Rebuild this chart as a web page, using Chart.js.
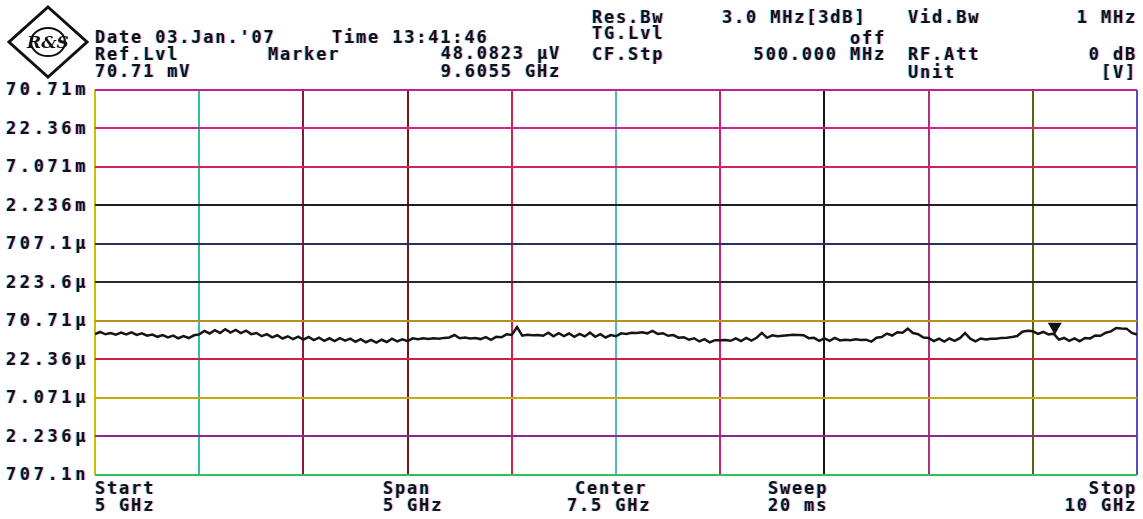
<!DOCTYPE html>
<html>
<head>
<meta charset="utf-8">
<script src="https://cdn.jsdelivr.net/npm/chart.js@4.4.1/dist/chart.umd.min.js"></script>
<style>
  body { margin: 0; background: #fff; }
  #wrap { position: relative; width: 1143px; height: 519px; overflow: hidden; }
  #plot { position: absolute; left: 0; top: 0; }
  .t {
    position: absolute; white-space: pre; color: #111;
    font: bold 17px "DejaVu Sans Mono", monospace; line-height: 18px;
    letter-spacing: 1.8px;
    text-shadow: -1px 0 rgba(0,190,230,0.45), 1px 0 rgba(230,0,160,0.4);
  }
  .r { text-align: right; }
</style>
</head>
<body>
<div id="wrap">
  <canvas id="plot" width="1143" height="519"></canvas>

  <svg style="position:absolute;left:6px;top:4px" width="84" height="76">
    <polygon points="42,3 81,38 42,73 3,38" fill="none" stroke="#111" stroke-width="3"/>
    <ellipse cx="42" cy="38" rx="17" ry="14" fill="none" stroke="#111" stroke-width="2"/>
    <text x="42" y="44" text-anchor="middle" font-family="DejaVu Serif" font-style="italic" font-weight="bold" font-size="17" fill="#111">R&amp;S</text>
  </svg>

  <div class="t" style="left:95px;top:28px">Date 03.Jan.'07</div>
  <div class="t" style="left:332px;top:28px">Time 13:41:46</div>
  <div class="t" style="left:95px;top:45px">Ref.Lvl</div>
  <div class="t" style="left:268px;top:45px">Marker</div>
  <div class="t r" style="right:582px;top:44px">48.0823 µV</div>
  <div class="t" style="left:95px;top:62px">70.71 mV</div>
  <div class="t r" style="right:582px;top:62px">9.6055 GHz</div>

  <div class="t" style="left:592px;top:8px">Res.Bw</div>
  <div class="t" style="left:722px;top:8px">3.0 MHz[3dB]</div>
  <div class="t" style="left:908px;top:8px">Vid.Bw</div>
  <div class="t r" style="right:6px;top:8px">1 MHz</div>
  <div class="t" style="left:592px;top:24px">TG.Lvl</div>
  <div class="t r" style="right:257px;top:29px">off</div>
  <div class="t" style="left:592px;top:45px">CF.Stp</div>
  <div class="t r" style="right:257px;top:45px">500.000 MHz</div>
  <div class="t" style="left:908px;top:45px">RF.Att</div>
  <div class="t r" style="right:6px;top:45px">0 dB</div>
  <div class="t" style="left:908px;top:63px">Unit</div>
  <div class="t r" style="right:6px;top:63px">[V]</div>

  <div class="t" style="left:95px;top:479px">Start</div>
  <div class="t" style="left:95px;top:496px">5 GHz</div>
  <div class="t" style="left:383px;top:479px">Span</div>
  <div class="t" style="left:383px;top:496px">5 GHz</div>
  <div class="t" style="left:575px;top:479px">Center</div>
  <div class="t" style="left:567px;top:496px">7.5 GHz</div>
  <div class="t" style="left:768px;top:479px">Sweep</div>
  <div class="t" style="left:768px;top:496px">20 ms</div>
  <div class="t r" style="right:6px;top:479px">Stop</div>
  <div class="t r" style="right:6px;top:496px">10 GHz</div>
</div>

<script>
// sweep 5 GHz .. 10 GHz, level in µV
const startGHz = 5;
const stopGHz = 10;
const stepGHz = 0.025;

const levels = [
  47.5, 50.6, 47.2, 49.1, 46.8, 49.6, 47.0, 49.9, 46.4, 48.5,
  45.2, 46.9, 43.8, 46.1, 42.9, 45.4, 41.9, 44.6, 42.2, 45.8,
  47.1, 52.3, 48.4, 53.5, 49.2, 54.8, 49.6, 53.7, 48.8, 52.6,
  47.4, 49.0, 44.6, 47.5, 43.1, 45.9, 41.6, 44.5, 40.9, 43.9,
  40.3, 43.5, 39.6, 42.7, 38.8, 41.9, 38.5, 42.0, 39.1, 41.5,
  37.8, 40.8, 37.2, 39.9, 36.8, 40.1, 37.5, 41.4, 38.1, 40.6,
  38.5, 41.8, 40.6, 42.0, 40.9, 41.9, 41.2, 42.4, 43.0, 46.2,
  41.9, 43.0, 41.7, 42.2, 40.9, 43.5, 40.1, 43.8, 43.2, 47.1,
  46.4, 58.6, 45.3, 46.6, 45.9, 46.1, 45.2, 49.4, 44.5, 48.9,
  44.8, 48.3, 43.9, 47.8, 44.3, 49.6, 43.8, 47.3, 42.9, 46.1,
  44.5, 48.6, 47.8, 49.5, 49.1, 50.0, 48.6, 52.3, 47.8, 48.8,
  45.1, 46.2, 42.6, 43.3, 40.2, 41.9, 38.1, 40.9, 37.0, 39.6,
  39.4, 39.8, 38.9, 41.9, 38.5, 42.4, 39.2, 42.6, 49.3, 42.5,
  45.8, 44.7, 45.3, 45.9, 46.4, 46.2, 45.9, 42.1, 42.5, 38.9,
  41.8, 38.7, 42.4, 39.3, 40.0, 39.5, 40.6, 39.9, 40.2, 37.9,
  42.7, 43.4, 48.3, 45.5, 50.1, 49.6, 55.9, 49.1, 47.4, 42.9,
  42.2, 38.6, 41.3, 37.9, 41.6, 38.7, 42.1, 48.9, 41.4, 38.3,
  41.7, 40.5, 41.2, 41.3, 42.4, 42.7, 43.5, 44.8, 50.9, 52.3,
  51.7, 47.8, 50.6, 47.0, 48.1, 40.2, 42.3, 38.9, 41.8, 38.4,
  42.3, 41.7, 45.5, 45.2, 49.4, 51.5, 57.0, 56.0, 55.9, 49.2,
  46.8
];
const freqs = levels.map((_, i) => startGHz + i * stepGHz);

const markerFreq = 9.6055;
const markerLevel = 48.0823;

const xTicks = [5, 5.5, 6, 6.5, 7, 7.5, 8, 8.5, 9, 9.5, 10];
const yTicks = [0.7071, 2.236, 7.071, 22.36, 70.71, 223.6, 707.1, 2236, 7071, 22360, 70710];
const yLabels = ['707.1n', '2.236µ', '7.071µ', '22.36µ', '70.71µ', '223.6µ', '707.1µ', '2.236m', '7.071m', '22.36m', '70.71m'];

const xGridColors = ['#c8c000', '#30c0a0', '#8a1838', '#701818', '#d02050', '#50b8d0', '#c82070', '#151515', '#b03080', '#606010', '#5050c0'];
const yGridColors = ['#30c060', '#8a2a90', '#c8a810', '#d02040', '#b89020', '#2a2a2a', '#2a3060', '#202020', '#d8205a', '#d8208a', '#c02090'];

const overlay = {
  id: 'overlay',
  afterDraw(chart) {
    const { ctx, scales: { x, y } } = chart;
    ctx.save();
    ctx.font = 'bold 17px "DejaVu Sans Mono"';
    ctx.letterSpacing = '3.6px';
    ctx.textBaseline = 'middle';
    yTicks.forEach((v, i) => {
      const py = y.getPixelForValue(v) + 1;
      ctx.fillStyle = 'rgba(0,190,230,0.45)';
      ctx.fillText(yLabels[i], 5, py);
      ctx.fillStyle = 'rgba(230,0,160,0.4)';
      ctx.fillText(yLabels[i], 7, py);
      ctx.fillStyle = '#111';
      ctx.fillText(yLabels[i], 6, py);
    });
    // marker triangle pointing at the trace
    const mx = x.getPixelForValue(markerFreq);
    const my = y.getPixelForValue(markerLevel);
    ctx.fillStyle = '#111';
    ctx.beginPath();
    ctx.moveTo(mx, my + 1);
    ctx.lineTo(mx - 7, my - 11);
    ctx.lineTo(mx + 7, my - 11);
    ctx.closePath();
    ctx.fill();
    ctx.restore();
  }
};

new Chart(document.getElementById('plot'), {
  type: 'line',
  data: {
    datasets: [{
      label: 'Trace',
      data: freqs.map((f, i) => ({ x: f, y: levels[i] })),
      borderColor: '#151515',
      borderWidth: 2.5,
      pointRadius: 0,
      tension: 0
    }]
  },
  options: {
    responsive: false,
    animation: false,
    layout: { padding: { top: 90, right: 6, bottom: 44, left: 0 } },
    plugins: { legend: { display: false }, tooltip: { enabled: false } },
    scales: {
      x: {
        type: 'linear',
        min: startGHz,
        max: stopGHz,
        afterBuildTicks: s => { s.ticks = xTicks.map(v => ({ value: v })); },
        ticks: { display: false },
        border: { display: false },
        grid: {
          drawTicks: false,
          lineWidth: 2,
          color: c => xGridColors[c.index] || '#111'
        }
      },
      y: {
        type: 'logarithmic',
        min: yTicks[0],
        max: yTicks[yTicks.length - 1],
        afterBuildTicks: s => { s.ticks = yTicks.map(v => ({ value: v })); },
        afterFit: s => { s.width = 95; },
        ticks: { display: false },
        border: { display: false },
        grid: {
          drawTicks: false,
          lineWidth: 2,
          color: c => yGridColors[c.index] || '#111'
        }
      }
    }
  },
  plugins: [overlay]
});
</script>
</body>
</html>
